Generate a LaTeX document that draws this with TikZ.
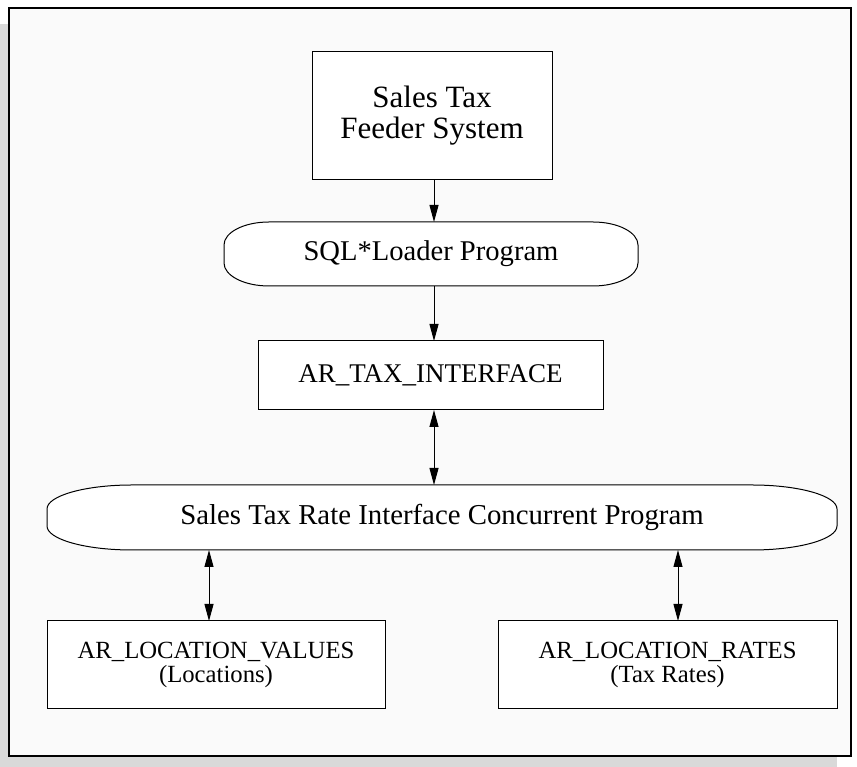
\documentclass[tikz,border=0pt]{standalone}
\usepackage{fontspec}
\setmainfont{Liberation Serif}
\usetikzlibrary{arrows.meta}

\pgfdeclarelayer{back}
\pgfsetlayers{back,main}

%Pill outline round a named node: node, x radius, y radius
\newcommand{\pillaround}[3]{%
  \begin{pgfonlayer}{back}
    \filldraw[line width=1pt,fill=white]
      ([xshift=#2]#1.north west) -- ([xshift=-#2]#1.north east)
      arc[start angle=90,end angle=0,x radius=#2,y radius=#3]
      -- ([yshift=#3]#1.south east)
      arc[start angle=0,end angle=-90,x radius=#2,y radius=#3]
      -- ([xshift=#2]#1.south west)
      arc[start angle=270,end angle=180,x radius=#2,y radius=#3]
      -- ([yshift=-#3]#1.north west)
      arc[start angle=180,end angle=90,x radius=#2,y radius=#3]
      -- cycle;
  \end{pgfonlayer}}

\begin{document}
\begin{tikzpicture}
			[x=1pt,y=1pt,
			%Styles
			box/.style={draw,fill=white,line width=1pt,inner sep=0pt,outer sep=0pt,align=center},
			prog/.style={inner sep=0pt,outer sep=0pt,align=center},
			link/.style={line width=1pt,-{Triangle[length=17pt,width=9pt]}},
			twoway/.style={line width=1pt,{Triangle[length=17pt,width=9pt]}-{Triangle[length=17pt,width=9pt]}}
			]
			
			%Colors
			\colorlet{shadowgray}{black!15}	%offset shadow
			\colorlet{framefill}{black!2}	%panel
			
			\useasboundingbox (0,0) rectangle (857,767);
			
			%The panel
			\begin{pgfonlayer}{back}
				\fill[shadowgray] (0,0) rectangle (837,743);
				\draw[line width=2.5pt,fill=framefill] (9,11) rectangle (851,759);
			\end{pgfonlayer}
			
			%The graphic
			\node[box,minimum width=240,minimum height=128,font={\fontsize{31}{31}\selectfont}] (feeder) at (432,651) {Sales Tax\\Feeder System};
			\node[prog,minimum width=414,minimum height=64,font={\fontsize{28.6}{30}\selectfont}] (sql) at (431,513) {SQL*Loader Program};
			\node[box,minimum width=345,minimum height=69,font={\fontsize{27}{30}\selectfont}] (tax) at (430.5,391.5) {AR\_TAX\_INTERFACE};
			\node[prog,minimum width=790,minimum height=65,font={\fontsize{28.8}{30}\selectfont}] (conc) at (442,249.5) {Sales Tax Rate Interface Concurrent Program};
			\node[box,minimum width=338,minimum height=88,font={\fontsize{24.7}{24.5}\selectfont}] (locv) at (216,102) {AR\_LOCATION\_VALUES\\(Locations)};
			\node[box,minimum width=339,minimum height=88,font={\fontsize{24.7}{24.5}\selectfont}] (locr) at (667.5,102) {AR\_LOCATION\_RATES\\(Tax Rates)};
			
			\pillaround{sql}{45pt}{23pt}
			\pillaround{conc}{85pt}{24pt}
			
			\draw[link] ([xshift=2pt]feeder.south) -- ([xshift=3pt]sql.north);
			\draw[link] ([xshift=3pt]sql.south) -- ([xshift=3.5pt]tax.north);
			\draw[twoway] ([xshift=3.5pt]tax.south) -- ([xshift=3.5pt]tax.south |- conc.north);
			\draw[twoway] ([xshift=-7pt]locv.north |- conc.south) -- ([xshift=-7pt]locv.north);
			\draw[twoway] ([xshift=10.5pt]locr.north |- conc.south) -- ([xshift=10.5pt]locr.north);
		\end{tikzpicture}
\end{document}
